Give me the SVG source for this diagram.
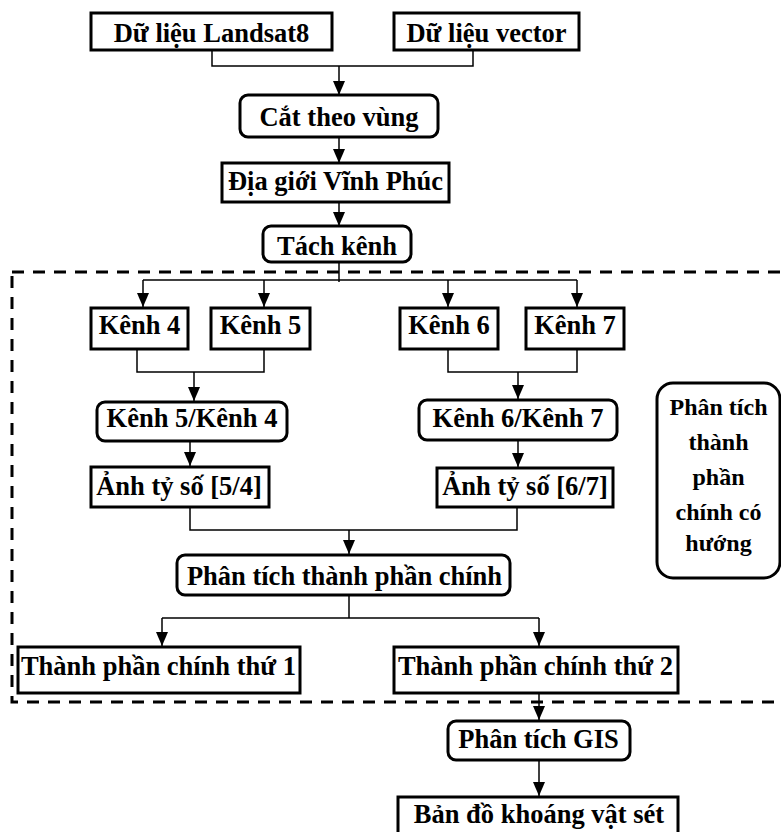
<svg xmlns="http://www.w3.org/2000/svg" width="781" height="832" viewBox="0 0 781 832">
<style>
.box{fill:#fff;stroke:#000;stroke-width:3}
.rbox{fill:#fff;stroke:#000;stroke-width:3}
.t{font-family:"Liberation Serif","Times New Roman",serif;font-weight:bold;font-size:26.5px;fill:#000;text-anchor:middle}
.ts{font-family:"Liberation Serif","Times New Roman",serif;font-weight:bold;font-size:24px;fill:#000;text-anchor:middle}
.c{fill:none;stroke:#000;stroke-width:1.5}
.a{fill:none;stroke:#000;stroke-width:1.5;marker-end:url(#arr)}
.dash{fill:none;stroke:#000;stroke-width:3;stroke-dasharray:12 9}
</style>
<defs>
<marker id="arr" markerUnits="userSpaceOnUse" viewBox="0 0 14 12" markerWidth="14" markerHeight="12" refX="14" refY="6" orient="auto">
<path d="M0,0 L14,6 L0,12 z" fill="#000"/>
</marker>
</defs>
<rect class="dash" x="12" y="272" width="775" height="430"/>
<g id="connectors">
<path class="c" d="M212,50 V66 H473 V50"/>
<path class="a" d="M339,66 V95"/>
<path class="a" d="M339,137 V163"/>
<path class="a" d="M339,202 V226"/>
<path class="c" d="M339,262 V282"/>
<path class="c" d="M143,280 H577"/>
<path class="a" d="M143,280 V307"/>
<path class="a" d="M264,280 V307"/>
<path class="a" d="M448,280 V307"/>
<path class="a" d="M577,280 V307"/>
<path class="c" d="M137,349 V372 H264 V349"/>
<path class="a" d="M194,372 V401"/>
<path class="a" d="M190,441 V466"/>
<path class="c" d="M448,349 V372 H577 V349"/>
<path class="a" d="M518,372 V399"/>
<path class="a" d="M518,440 V467"/>
<path class="c" d="M190,507 V530 H517 V507"/>
<path class="a" d="M349,530 V554"/>
<path class="c" d="M349,595 V618"/>
<path class="c" d="M162,618 H539"/>
<path class="a" d="M162,618 V646"/>
<path class="a" d="M539,618 V646"/>
<path class="a" d="M539,693 V720"/>
<path class="a" d="M539,760 V796"/>
</g>
<g id="landsat"><rect class="box" x="91" y="13" width="241" height="37"/><text class="t" x="211.5" y="42">Dữ liệu Landsat8</text></g>
<g id="vector"><rect class="box" x="394" y="13" width="185" height="37"/><text class="t" x="486.5" y="42">Dữ liệu vector</text></g>
<g id="cat"><rect class="rbox" x="240" y="95" width="198" height="42" rx="8"/><text class="t" x="339" y="126">Cắt theo vùng</text></g>
<g id="diagioi"><rect class="box" x="222" y="163" width="227" height="39"/><text class="t" x="335.5" y="190">Địa giới Vĩnh Phúc</text></g>
<g id="tach"><rect class="rbox" x="263" y="226" width="148" height="36" rx="8"/><text class="t" x="337" y="255">Tách kênh</text></g>
<g id="k4"><rect class="box" x="91" y="308" width="97" height="41"/><text class="t" x="139.5" y="334">Kênh 4</text></g>
<g id="k5"><rect class="box" x="211" y="308" width="99" height="41"/><text class="t" x="260.5" y="334">Kênh 5</text></g>
<g id="k6"><rect class="box" x="400" y="308" width="98" height="41"/><text class="t" x="449" y="334">Kênh 6</text></g>
<g id="k7"><rect class="box" x="526" y="308" width="98" height="41"/><text class="t" x="575" y="334">Kênh 7</text></g>
<g id="k54"><rect class="rbox" x="97" y="402" width="190" height="39" rx="8"/><text class="t" x="192" y="427">Kênh 5/Kênh 4</text></g>
<g id="anh54"><rect class="box" x="91" y="467" width="178" height="40"/><text class="t" x="179" y="495">Ảnh tỷ số [5/4]</text></g>
<g id="k67"><rect class="rbox" x="419" y="400" width="198" height="40" rx="8"/><text class="t" x="518" y="427">Kênh 6/Kênh 7</text></g>
<g id="anh67"><rect class="box" x="437" y="468" width="176" height="39"/><text class="t" x="525" y="495">Ảnh tỷ số [6/7]</text></g>
<g id="pca"><rect class="rbox" x="177" y="555" width="333" height="40" rx="8"/><text class="t" x="344.5" y="585">Phân tích thành phần chính</text></g>
<g id="tp1"><rect class="box" x="18" y="647" width="282" height="46"/><text class="t" x="158.5" y="675">Thành phần chính thứ 1</text></g>
<g id="tp2"><rect class="box" x="394" y="647" width="284" height="46"/><text class="t" x="535.5" y="675">Thành phần chính thứ 2</text></g>
<g id="gis"><rect class="rbox" x="448" y="721" width="182" height="39" rx="8"/><text class="t" x="538.5" y="748">Phân tích GIS</text></g>
<g id="bando"><rect class="box" x="398" y="797" width="280" height="42"/><text class="t" x="539" y="823">Bản đồ khoáng vật sét</text></g>
<g id="side"><rect class="rbox" x="657" y="383" width="123" height="195" rx="16"/>
<text class="ts" x="718.5" y="415">Phân tích</text>
<text class="ts" x="718.5" y="450">thành</text>
<text class="ts" x="718.5" y="485">phần</text>
<text class="ts" x="718.5" y="520">chính có</text>
<text class="ts" x="718.5" y="551">hướng</text>
</g>
</svg>
